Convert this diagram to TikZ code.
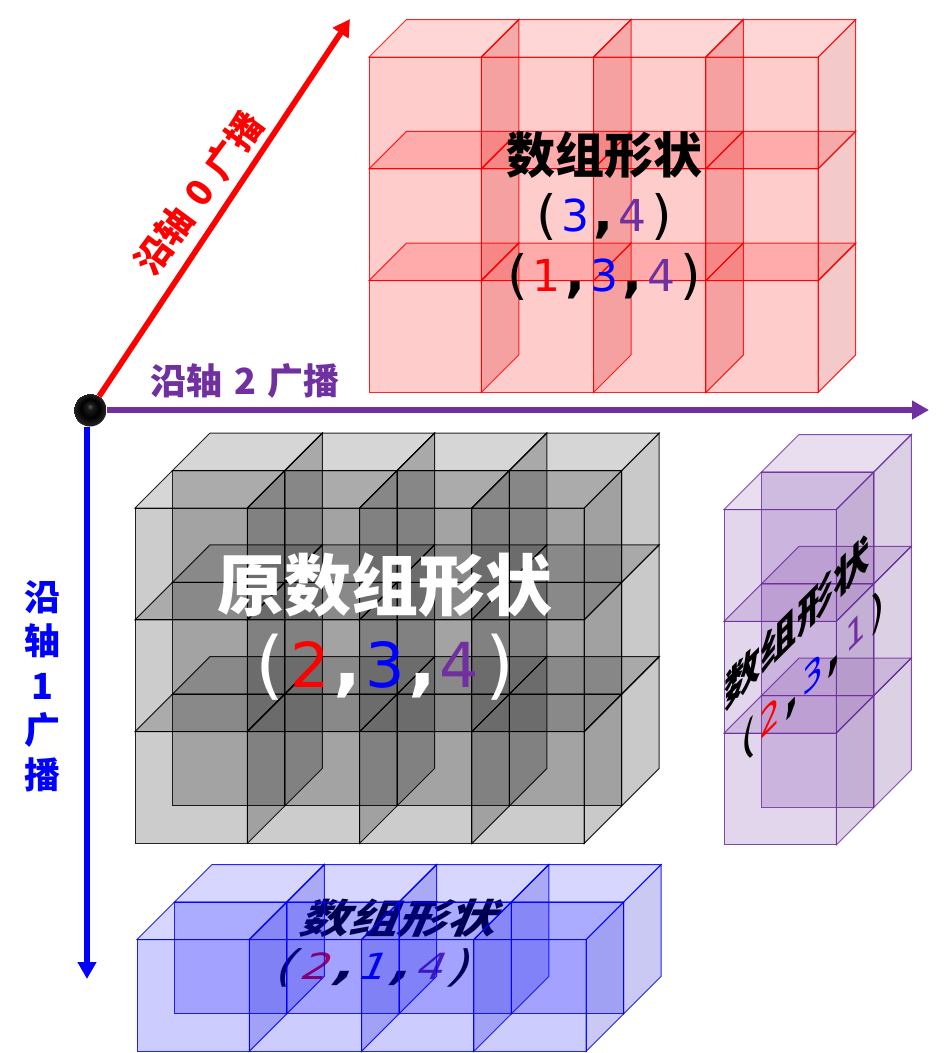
\documentclass[tikz,border=0pt]{standalone}
\usepackage{graphicx}
\usepackage{fontspec}
\usetikzlibrary{arrows.meta}
\setmainfont{DejaVu Sans}
\newfontfamily\cjk{Noto Sans CJK SC}
\newfontfamily\tuplefont{DejaVu Sans}
\definecolor{axisred}{RGB}{255,0,0}
\definecolor{axisblue}{RGB}{0,0,255}
\definecolor{axispurple}{RGB}{112,48,160}
\pgfdeclareradialshading{darkball}{\pgfpoint{0pt}{6pt}}{color(0pt)=(black!65); color(5pt)=(black!90); color(14pt)=(black); color(25pt)=(black!85)}
\tikzset{
    frontface/.style={line width=1pt,draw=#1,draw opacity=.85,fill=#1,fill opacity=.2},
    topface/.style={line width=1pt,draw=#1,draw opacity=.85,fill=#1,fill opacity=.16},
    sideface/.style={line width=1pt,draw=#1,draw opacity=.85,fill=#1!80!black,fill opacity=.21},
    axisline/.style={line width=5.7pt,-{Triangle[width=18pt,length=17pt]}},
    axislabel/.style={font=\cjk\bfseries\fontsize{36}{44.5}\selectfont,inner sep=0pt},
    titlelabel/.style={font=\cjk\bfseries\fontsize{49}{49}\selectfont,inner sep=0pt},
    tuplelabel/.style={font=\tuplefont\fontsize{44}{44}\selectfont,inner sep=0pt}
}
% one cube: x, y of the front face corner, colour
\newcommand{\cubeat}[3]{
    \draw[frontface=#3] (#1,#2) rectangle ++(112.3,111.8);
    \draw[topface=#3] (#1,#2) -- ++(37.5,-37.5) -- ++(112.3,0) -- ++(-37.5,37.5) -- cycle;
    \draw[sideface=#3] ({#1+112.3},#2) -- ++(37.5,-37.5) -- ++(0,111.8) -- ++(-37.5,37.5) -- cycle;
}
% block: x, y, last depth, last row, last column, colour
\newcommand{\cubeblock}[6]{
    \foreach \depth in {#3,...,0}
        \foreach \row in {0,...,#4}
            \foreach \col in {0,...,#5}
                \cubeat{#1+37.5*\depth+112.3*\col}{#2-37.5*\depth+111.8*\row}{#6};
}
\newcommand{\rd}[1]{\textcolor{axisred}{#1}}
\newcommand{\bl}[1]{\textcolor{axisblue}{#1}}
\newcommand{\pu}[1]{\textcolor{axispurple}{#1}}
% parts of a shape tuple
\newcommand{\tgap}{.11em}
\newcommand{\opn}{\raisebox{-.05em}{\scalebox{1.2}{(}}\kern.1em}
\newcommand{\cls}{\kern.1em\raisebox{-.05em}{\scalebox{1.2}{)}}}
\newcommand{\cma}{\kern\tgap\scalebox{1.2}{\bfseries,}\kern\tgap}

\begin{document}
\begin{tikzpicture}[x=1pt,y=-1pt]
    \useasboundingbox (0,0) rectangle (948,1053);
    % cubes
    \cubeblock{369}{57}{0}{2}{3}{axisred}
    \cubeblock{135}{508}{1}{2}{3}{black}
    \cubeblock{724}{509.5}{1}{2}{0}{axispurple}
    % this text lies behind the blue cubes
    \node[titlelabel,cm={1,0,.35,.82,(0,0)}] (bluetitle) at (403,918) {数组形状};
    \node[tuplelabel,cm={1,0,.35,.82,(0,0)}] (bluetuple) at (375,968) {\opn\rd{2}\cma\bl{1}\cma\pu{4}\cls};
    \cubeblock{137}{939.5}{1}{0}{3}{axisblue}
    % axes
    \node[circle,inner sep=0pt,outer sep=0pt,minimum size=33pt,shading=darkball] (ball) at (90,410) {};
    \coordinate (tipred) at (350,19);
    \coordinate (tipblue) at (87,979);
    \coordinate (tippurple) at (929,410);
    \draw[axisline,axisred] (ball) -- (tipred);
    \draw[axisline,axisblue] ([xshift=-3pt]ball.south) -- (tipblue);
    \draw[axisline,axispurple] (ball) -- (tippurple);
    \node[axislabel,axisred,rotate=53.5] (labelred) at (199,193) {沿轴\,\,0\,\,广播};
    \node[axislabel,axispurple] (labelpurple) at (245,381) {沿轴\,\,2\,\,广播};
    \node[axislabel,axisblue,align=center] (labelblue) at (42,686) {沿\\轴\\1\\广\\播};
    % shape texts
    \node[titlelabel] (redtitle) at (604,155) {数组形状};
    \node[tuplelabel] (redtuple) at (604,217) {\opn\bl{3}\cma\pu{4}\cls};
    \node[tuplelabel] (redfull) at (604,277) {\opn\rd{1}\cma\bl{3}\cma\pu{4}\cls};
    \node[titlelabel,white,font=\cjk\bfseries\fontsize{67}{67}\selectfont] (greytitle) at (385,585) {原数组形状};
    \node[tuplelabel,white,font=\tuplefont\fontsize{62}{62}\selectfont] (greytuple) at (385,667) {\renewcommand{\tgap}{.055em}\opn\rd{2}\cma\bl{3}\cma\pu{4}\cls};
    \node[titlelabel,cm={.74,.74,0,.85,(0,0)}] (purpletitle) at (797,622) {数组形状};
    \node[tuplelabel,cm={.74,.74,0,.85,(0,0)}] (purpletuple) at (813,676) {\opn\rd{2}\cma\bl{3}\cma\pu{1}\cls};
\end{tikzpicture}
\end{document}
